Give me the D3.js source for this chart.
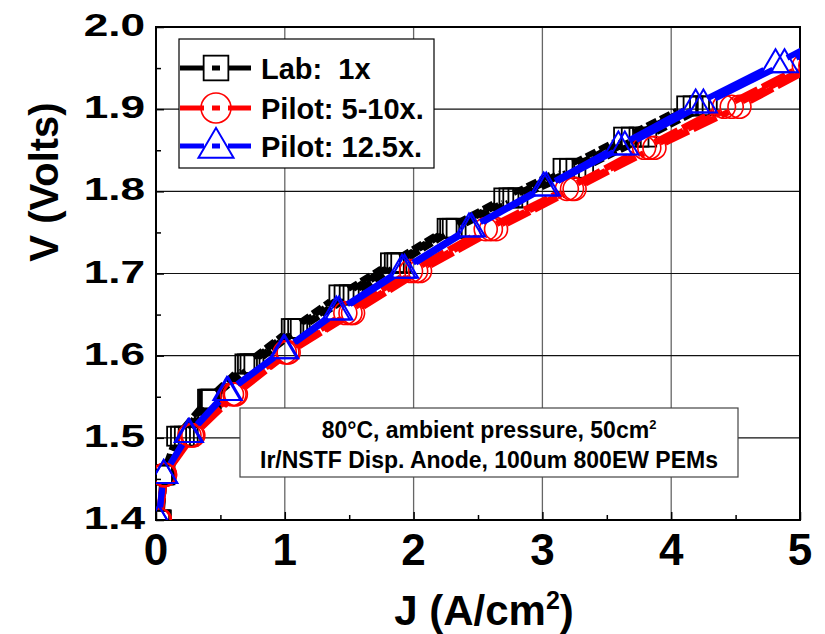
<!DOCTYPE html>
<html>
<head>
<meta charset="utf-8">
<script src="https://cdn.jsdelivr.net/npm/d3@7"></script>
<style>
body { margin: 0; background: #fff; }
text { font-family: "Liberation Sans", Arial, sans-serif; font-weight: bold; fill: #000; }
</style>
</head>
<body>
<script>
// Polarization curves, V vs J (several cells per group)
var labV = [1.40, 1.455, 1.502, 1.547, 1.590, 1.633, 1.674, 1.713, 1.755, 1.792, 1.828, 1.866, 1.904];
var labJ = [
  [0.03, 0.05, 0.16, 0.40, 0.69, 1.05, 1.42, 1.82, 2.26, 2.70, 3.16, 3.63, 4.12],
  [0.03, 0.06, 0.19, 0.41, 0.71, 1.07, 1.46, 1.85, 2.28, 2.74, 3.21, 3.69, 4.17],
  [0.04, 0.06, 0.22, 0.42, 0.73, 1.10, 1.50, 1.87, 2.30, 2.77, 3.26, 3.75, 4.22],
  [0.04, 0.07, 0.25, 0.43, 0.76, 1.12, 1.53, 1.90, 2.33, 2.81, 3.32, 3.81, 4.28]
];
var pilotV = [1.40, 1.455, 1.503, 1.553, 1.604, 1.652, 1.703, 1.754, 1.803, 1.853, 1.903, 1.953];
var pilotJ = [
  [0.02, 0.06, 0.26, 0.59, 1.00, 1.47, 1.98, 2.56, 3.19, 3.79, 4.41, 5.03],
  [0.03, 0.07, 0.28, 0.61, 1.02, 1.51, 2.02, 2.60, 3.23, 3.83, 4.47, 5.08],
  [0.03, 0.07, 0.29, 0.62, 1.03, 1.53, 2.05, 2.64, 3.25, 3.87, 4.53, 5.12]
];
var highV = [1.40, 1.455, 1.505, 1.556, 1.607, 1.654, 1.705, 1.755, 1.805, 1.855, 1.906, 1.955, 2.005];
var highJ = [
  [0.02, 0.06, 0.25, 0.55, 0.99, 1.40, 1.91, 2.43, 3.01, 3.59, 4.19, 4.81, 5.42],
  [0.02, 0.06, 0.26, 0.56, 1.00, 1.42, 1.93, 2.45, 3.03, 3.64, 4.25, 4.88, 5.48]
];
var seriesNames = ["Lab:  1x", "Pilot: 5-10x.", "Pilot: 12.5x."];
var xTicks = [0, 1, 2, 3, 4, 5];
var xMinor = [0.5, 1.5, 2.5, 3.5, 4.5];
var yTicks = [1.4, 1.5, 1.6, 1.7, 1.8, 1.9, 2.0];
var yMinor = [1.45, 1.55, 1.65, 1.75, 1.85, 1.95];
var noteLines = ["80\u00b0C, ambient pressure, 50cm", "Ir/NSTF Disp. Anode, 100um 800EW PEMs"];

var W = 825, H = 634;
var pL = 156, pR = 800, pT = 27, pB = 520;

var x = d3.scaleLinear().domain([0, 5]).range([pL, pR]);
var y = d3.scaleLinear().domain([1.4, 2.0]).range([pB, pT]);

var svg = d3.select("body").append("svg").attr("width", W).attr("height", H);

svg.append("defs").append("clipPath").attr("id", "plotclip")
  .append("rect").attr("x", pL).attr("y", pT).attr("width", pR - pL).attr("height", pB - pT);

// grid
svg.append("g").selectAll("line").data(xTicks.slice(1, -1)).enter().append("line")
  .attr("x1", function(d){ return x(d); }).attr("x2", function(d){ return x(d); })
  .attr("y1", pT).attr("y2", pB).attr("stroke", "#666").attr("stroke-width", 1.3);
svg.append("g").selectAll("line").data(yTicks.slice(1, -1)).enter().append("line")
  .attr("x1", pL).attr("x2", pR)
  .attr("y1", function(d){ return y(d); }).attr("y2", function(d){ return y(d); })
  .attr("stroke", "#111").attr("stroke-width", 1.2);

// axes with inward ticks
var xAxis = svg.append("g").attr("transform", "translate(0," + pB + ")")
  .call(d3.axisBottom(x).tickValues(xTicks).tickSize(-8).tickFormat(""));
var xAxisMinor = svg.append("g").attr("transform", "translate(0," + pB + ")")
  .call(d3.axisBottom(x).tickValues(xMinor).tickSize(-5).tickFormat(""));
var yAxis = svg.append("g").attr("transform", "translate(" + pL + ",0)")
  .call(d3.axisLeft(y).tickValues(yTicks).tickSize(-8).tickFormat(""));
var yAxisMinor = svg.append("g").attr("transform", "translate(" + pL + ",0)")
  .call(d3.axisLeft(y).tickValues(yMinor).tickSize(-5).tickFormat(""));
[xAxis, xAxisMinor, yAxis, yAxisMinor].forEach(function(a){
  a.select(".domain").remove();
  a.selectAll("line").attr("stroke", "#000").attr("stroke-width", 1.5);
});

// frame
svg.append("rect").attr("x", pL).attr("y", pT).attr("width", pR - pL).attr("height", pB - pT)
  .attr("fill", "none").attr("stroke", "#000").attr("stroke-width", 2);

// tick labels
svg.append("g").selectAll("text").data(xTicks).enter().append("text")
  .attr("x", function(d){ return x(d); }).attr("y", 565)
  .attr("text-anchor", "middle").style("font-size", "44px")
  .text(function(d){ return d; });
svg.append("g").selectAll("text").data(yTicks).enter().append("text")
  .attr("transform", function(d){ return "translate(145," + (y(d) + 9) + ") scale(1.38,1)"; })
  .attr("text-anchor", "end").style("font-size", "32px")
  .text(function(d){ return d.toFixed(1); });

// axis titles
var xt = svg.append("text").attr("x", 484).attr("y", 625).attr("text-anchor", "middle").style("font-size", "42px");
xt.append("tspan").text("J (A/cm");
xt.append("tspan").attr("dy", -16).style("font-size", "25px").text("2");
xt.append("tspan").attr("dy", 16).text(")");
svg.append("text").attr("transform", "translate(58,182) rotate(-90)")
  .attr("text-anchor", "middle").style("font-size", "40px").text("V (Volts)");

// markers
function drawMarker(g, type, cx, cy, k, color) {
  if (type === "square") {
    var s = 19 * k;
    g.append("rect").attr("x", cx - s / 2).attr("y", cy - s / 2).attr("width", s).attr("height", s)
      .attr("fill", "none").attr("stroke", color).attr("stroke-width", 1.8);
  } else if (type === "circle") {
    g.append("circle").attr("cx", cx).attr("cy", cy).attr("r", 11.5 * k)
      .attr("fill", "none").attr("stroke", color).attr("stroke-width", 1.6);
  } else {
    var w = 27 * k, h = 23 * k;
    g.append("path")
      .attr("d", "M" + (cx - w / 2) + "," + (cy + h * 0.36) + "L" + (cx + w / 2) + "," + (cy + h * 0.36) + "L" + cx + "," + (cy - h * 0.64) + "Z")
      .attr("fill", "none").attr("stroke", color).attr("stroke-width", 2);
  }
}

var groups = [
  {V: labV, J: labJ, color: "#000000", marker: "square", dash: "11,4", width: 6, gap: 11},
  {V: pilotV, J: pilotJ, color: "#ff0000", marker: "circle", dash: "26,5", width: 6.5, gap: 12},
  {V: highV, J: highJ, color: "#0000ff", marker: "triangle", dash: null, width: 6, gap: 13}
];

var plot = svg.append("g").attr("clip-path", "url(#plotclip)");
var lineGen = d3.line();

groups.forEach(function(gr) {
  var gl = plot.append("g");
  gr.J.forEach(function(js) {
    var pts = js.map(function(j, i){ return [x(j), y(gr.V[i])]; });
    for (var i = 0; i < pts.length - 1; i++) {
      var p0 = pts[i], p1 = pts[i + 1];
      var dx = p1[0] - p0[0], dy = p1[1] - p0[1], len = Math.sqrt(dx * dx + dy * dy);
      if (len <= 2 * gr.gap) continue;
      var ux = dx / len, uy = dy / len;
      var seg = gl.append("path")
        .attr("d", lineGen([[p0[0] + ux * gr.gap, p0[1] + uy * gr.gap], [p1[0] - ux * gr.gap, p1[1] - uy * gr.gap]]))
        .attr("fill", "none").attr("stroke", gr.color).attr("stroke-width", gr.width);
      if (gr.dash) seg.attr("stroke-dasharray", gr.dash);
    }
  });
  var gm = plot.append("g");
  gr.J.forEach(function(js) {
    js.forEach(function(j, i){ drawMarker(gm, gr.marker, x(j), y(gr.V[i]), 1, gr.color); });
  });
});

// legend
var leg = svg.append("g");
leg.append("rect").attr("x", 179).attr("y", 39).attr("width", 255).attr("height", 129)
  .attr("fill", "#fff").attr("stroke", "#000").attr("stroke-width", 1.2);
var legY = [68, 108, 146];
var legSegs = [[180, 204], [212, 220], [228, 251]];
groups.forEach(function(gr, i) {
  legSegs.forEach(function(s){
    leg.append("line").attr("x1", s[0]).attr("x2", s[1]).attr("y1", legY[i]).attr("y2", legY[i])
      .attr("stroke", gr.color).attr("stroke-width", 5);
  });
  drawMarker(leg, gr.marker, 216, legY[i] + (gr.marker === "triangle" ? 1 : 0), 1.3, gr.color);
  leg.append("text").attr("x", 261).attr("y", legY[i] + 11).style("font-size", "29px")
    .style("white-space", "pre").text(seriesNames[i]);
});

// note box
var nb = svg.append("g");
nb.append("rect").attr("x", 240).attr("y", 408).attr("width", 498).attr("height", 69)
  .attr("fill", "#fff").attr("stroke", "#444").attr("stroke-width", 1.2);
var n1 = nb.append("text").attr("x", 489).attr("y", 438).attr("text-anchor", "middle").style("font-size", "23px");
n1.append("tspan").text(noteLines[0]);
n1.append("tspan").attr("dy", -9).style("font-size", "13px").text("2");
nb.append("text").attr("x", 489).attr("y", 468).attr("text-anchor", "middle").style("font-size", "23px").text(noteLines[1]);
</script>
</body>
</html>
